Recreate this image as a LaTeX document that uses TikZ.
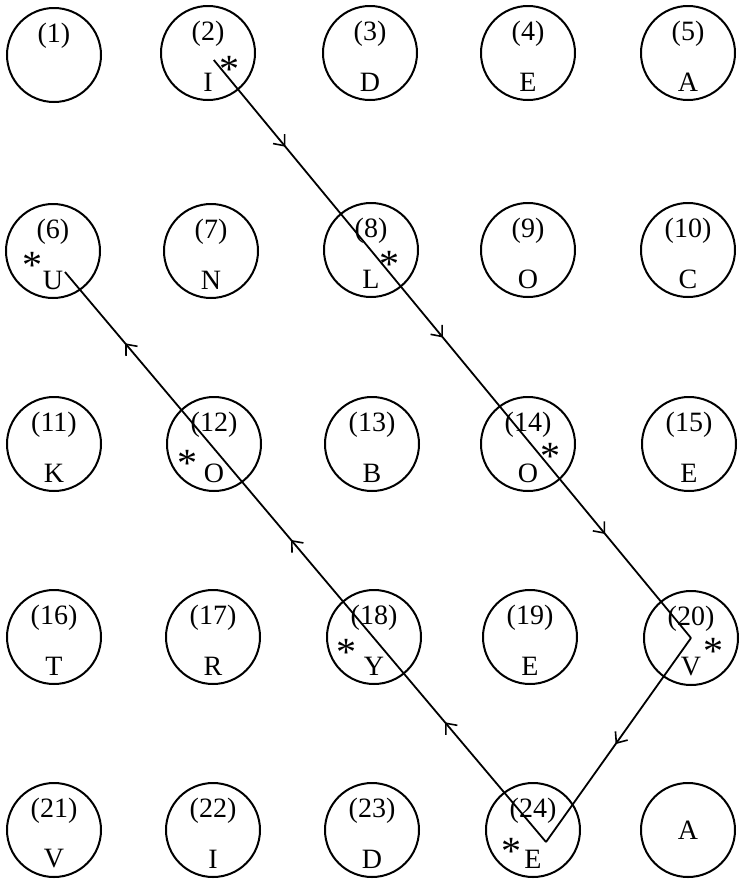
\documentclass[tikz,border=0pt]{standalone}
\usepackage{fontspec}
\setmainfont{Liberation Serif}
\usetikzlibrary{arrows.meta,decorations.markings,calc}
\begin{document}
\begin{tikzpicture}[x=1pt,y=-1pt,
  circ/.style={draw,circle,line width=2pt,minimum size=94pt,inner sep=0pt},
  txt/.style={font=\fontsize{28}{30}\selectfont,inner sep=0pt},
  starmark/.style={font=\fontsize{40}{40}\selectfont,inner sep=0pt,yshift=-6pt},
  route/.style={line width=1.8pt,postaction={decorate}}
]
\useasboundingbox (0,0) rectangle (740,884);
\fill[white] (0,0) rectangle (740,884);

% circles
\foreach \n/\x/\y in {1/54/55,2/208/53,3/370/53,4/528/53,5/688/53,
  6/53/251,7/211/251,8/371/250,9/528/250,10/688/250,
  11/54/444,12/214/444,13/372/444,14/528/444,15/689/444,
  16/54/637,17/213/637,18/374/637,19/530/637,20/691/638,
  21/54/830,22/213/830,23/372/830,24/533/830,25/688/830}
  {\node[circ] (c\n) at (\x,\y) {};}

% numbers
\foreach \n in {1,...,24}
  {\node[txt] (n\n) at ($(c\n.center)+(0,-19)$) {(\n)};}

% letters
\foreach \n/\l in {2/I,3/D,4/E,5/A,6/U,7/N,8/L,9/O,10/C,11/K,12/O,13/B,14/O,15/E,
  16/T,17/R,18/Y,19/E,20/V,21/V,22/I,23/D,24/E}
  {\node[txt] (l\n) at ($(c\n.center)+(0,29)$) {\l};}
\node[txt] (l25) at (c25.center) {A};

% stars
\foreach \n/\dx/\dy in {2/21/10,6/-21/8,8/18/8,12/-27/13,14/22/6,18/-28/9,20/22/7,24/-22/15}
  {\node[starmark] (s\n) at ($(c\n.center)+(\dx,\dy)$) {*};}

% route
\coordinate (p0) at ($(c2.center)!0.012!(c20.center)$);
\coordinate (v24) at ($(c24.center)+(13,12)$);
\coordinate (e6) at ($(c6.center)+(12,21)$);

\draw[route,decoration={markings,
  mark=at position 0.15 with {\arrow{Straight Barb[length=9pt,width=15pt,line width=1.6pt]}},
  mark=at position 0.48 with {\arrow{Straight Barb[length=9pt,width=15pt,line width=1.6pt]}},
  mark=at position 0.82 with {\arrow{Straight Barb[length=9pt,width=15pt,line width=1.6pt]}}}]
  (p0) -- (c20.center);
\draw[route,decoration={markings,
  mark=at position 0.52 with {\arrow{Straight Barb[length=9pt,width=15pt,line width=1.6pt]}}}]
  (c20.center) -- (v24);
\draw[route,decoration={markings,
  mark=at position 0.21 with {\arrow{Straight Barb[length=9pt,width=15pt,line width=1.6pt]}},
  mark=at position 0.53 with {\arrow{Straight Barb[length=9pt,width=15pt,line width=1.6pt]}},
  mark=at position 0.875 with {\arrow{Straight Barb[length=9pt,width=15pt,line width=1.6pt]}}}]
  (v24) -- (e6);
\end{tikzpicture}
\end{document}
